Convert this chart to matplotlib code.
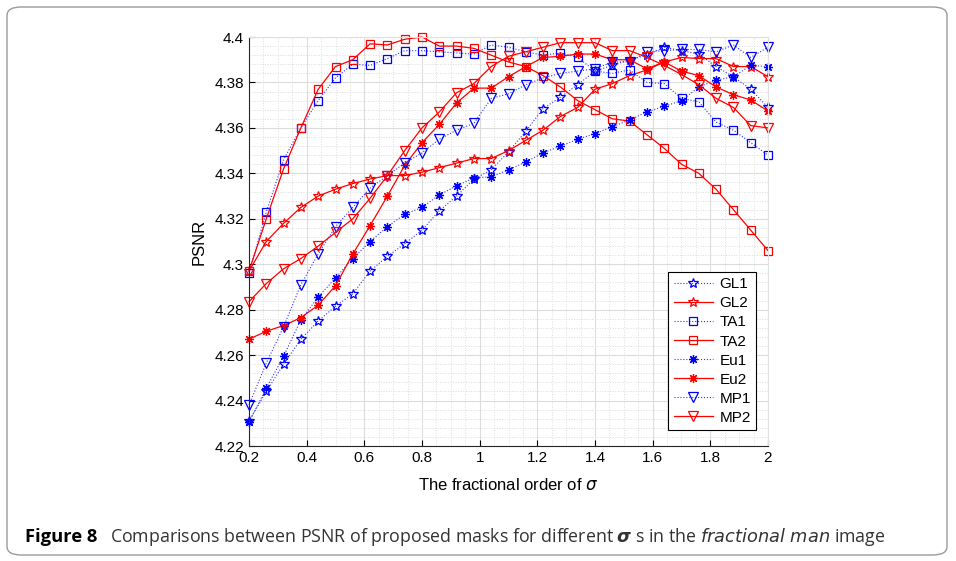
import numpy as np
import matplotlib.pyplot as plt
from matplotlib.patches import FancyBboxPatch

# ===== Veriler =====
sigma = np.round(np.arange(0.2, 2.0001, 0.06), 2)

gl1 = [4.231, 4.244, 4.256, 4.267, 4.275, 4.2815, 4.287, 4.297, 4.3035, 4.309, 4.315,
       4.3235, 4.330, 4.3375, 4.3415, 4.3495, 4.3585, 4.3685, 4.3735, 4.379, 4.385,
       4.3875, 4.390, 4.392, 4.3955, 4.394, 4.3925, 4.387, 4.3825, 4.377, 4.369]
gl2 = [4.297, 4.310, 4.318, 4.325, 4.330, 4.333, 4.3355, 4.3375, 4.339, 4.339, 4.3405,
       4.3425, 4.3445, 4.3465, 4.3465, 4.350, 4.3545, 4.359, 4.365, 4.369, 4.377,
       4.3795, 4.383, 4.3855, 4.389, 4.391, 4.3905, 4.3905, 4.387, 4.387, 4.3825]
ta1 = [4.296, 4.323, 4.346, 4.360, 4.372, 4.382, 4.388, 4.3875, 4.3905, 4.394, 4.394,
       4.3935, 4.393, 4.3925, 4.3965, 4.3955, 4.3935, 4.392, 4.393, 4.391, 4.385,
       4.384, 4.3855, 4.380, 4.3795, 4.373, 4.3715, 4.3625, 4.359, 4.3535, 4.348]
ta2 = [4.297, 4.320, 4.342, 4.360, 4.377, 4.387, 4.390, 4.397, 4.3965, 4.399, 4.400,
       4.396, 4.396, 4.395, 4.392, 4.389, 4.387, 4.383, 4.378, 4.372, 4.368,
       4.364, 4.363, 4.357, 4.351, 4.344, 4.340, 4.333, 4.324, 4.315, 4.306]
eu1 = [4.2305, 4.2455, 4.2595, 4.2755, 4.2855, 4.294, 4.3025, 4.310, 4.3165, 4.322, 4.325,
       4.3305, 4.3345, 4.338, 4.3385, 4.3415, 4.345, 4.349, 4.352, 4.355, 4.3575,
       4.3605, 4.3635, 4.367, 4.3695, 4.372, 4.378, 4.381, 4.3825, 4.3875, 4.387]
eu2 = [4.267, 4.2705, 4.273, 4.2765, 4.282, 4.2905, 4.3045, 4.317, 4.330, 4.3435, 4.3535,
       4.3615, 4.371, 4.3775, 4.3775, 4.3825, 4.387, 4.391, 4.3915, 4.3925, 4.3925,
       4.390, 4.390, 4.386, 4.389, 4.385, 4.383, 4.378, 4.3746, 4.3723, 4.3674]
mp1 = [4.238, 4.2565, 4.2725, 4.291, 4.3045, 4.3165, 4.325, 4.3335, 4.339, 4.3445, 4.349,
       4.355, 4.359, 4.362, 4.373, 4.375, 4.379, 4.382, 4.384, 4.385, 4.386,
       4.389, 4.389, 4.3935, 4.394, 4.3945, 4.3945, 4.3935, 4.3965, 4.391, 4.3955]
mp2 = [4.2835, 4.2915, 4.298, 4.3025, 4.308, 4.314, 4.320, 4.329, 4.339, 4.350, 4.360,
       4.367, 4.3755, 4.3795, 4.387, 4.3915, 4.3935, 4.3955, 4.3975, 4.3975, 4.3975,
       4.394, 4.394, 4.391, 4.3875, 4.3835, 4.379, 4.373, 4.369, 4.361, 4.360]

series = [("GL1", gl1), ("GL2", gl2), ("TA1", ta1), ("TA2", ta2),
          ("Eu1", eu1), ("Eu2", eu2), ("MP1", mp1), ("MP2", mp2)]
markers = {"GL": "*", "TA": "s", "Eu": (8, 2, 0), "MP": "v"}
msizes = {"GL": 7.5, "TA": 5.5, "Eu": 6.5, "MP": 7}

plt.rcParams['font.family'] = ['Liberation Sans', 'DejaVu Sans']

fig = plt.figure(figsize=(9.56, 5.61), dpi=100)

# ===== Çerçeve =====
frame = FancyBboxPatch((7 / 956, 6 / 561), 940 / 956, 548 / 561,
                       boxstyle="round,pad=0,rounding_size=0.015",
                       transform=fig.transFigure, facecolor='none',
                       edgecolor='#9a9a9a', linewidth=1.0)
fig.patches.append(frame)

ax = fig.add_axes([249 / 956, 115 / 561, 519 / 956, 409 / 561])

for name, vals in series:
    key = name[:2]
    if name.endswith("1"):
        ax.plot(sigma, vals, linestyle=':', color='#3333ff', linewidth=0.8,
                marker=markers[key], markersize=msizes[key], markerfacecolor='none',
                markeredgecolor='blue', markeredgewidth=0.9, label=name, clip_on=False)
    else:
        ax.plot(sigma, vals, linestyle='-', color='red', linewidth=0.9,
                marker=markers[key], markersize=msizes[key], markerfacecolor='none',
                markeredgecolor='red', markeredgewidth=0.9, label=name, clip_on=False)

ax.set_xlim(0.2, 2)
ax.set_ylim(4.22, 4.4)
ax.set_xticks(np.arange(0.2, 2.01, 0.2))
ax.set_xticklabels(["0.2", "0.4", "0.6", "0.8", "1", "1.2", "1.4", "1.6", "1.8", "2"])
ax.set_yticks(np.arange(4.22, 4.401, 0.02))
ax.set_yticklabels(["4.22", "4.24", "4.26", "4.28", "4.3", "4.32", "4.34", "4.36", "4.38", "4.4"])
ax.set_xticks(np.arange(0.2, 2.001, 0.05), minor=True)
ax.set_yticks(np.arange(4.22, 4.4001, 0.004), minor=True)
ax.tick_params(which='both', direction='in', labelsize=11, top=False, right=False)
ax.tick_params(which='major', length=4, width=0.8)
ax.tick_params(which='minor', length=0)
ax.grid(True, which='major', color='#dcdcdc', linewidth=0.8)
ax.grid(True, which='minor', color='#dcdcdc', linestyle=':', linewidth=0.7)
ax.set_axisbelow(True)
for side in ['top', 'right']:
    ax.spines[side].set_color('#e0e0e0')
for side in ['left', 'bottom']:
    ax.spines[side].set_color('#262626')

ax.set_xlabel(r"The fractional order of $\sigma$", fontsize=12, labelpad=9)
ax.set_ylabel("PSNR", fontsize=12, labelpad=6)

leg = ax.legend(loc='lower right', fontsize=11, frameon=True, fancybox=False,
                edgecolor='black', framealpha=1, handlelength=2.6, borderpad=0.35,
                labelspacing=0.33, handletextpad=0.4, borderaxespad=0,
                bbox_to_anchor=(0.977, 0.039))
leg.get_frame().set_linewidth(0.8)

# ===== Alt yazı =====
fig.text(25 / 956, 1 - 537 / 561, "Figure 8", fontsize=13.2, fontweight='bold',
         family='Open Sans', va='center', color='black')
fig.text(110 / 956, 1 - 537 / 561,
         r"Comparisons between PSNR of proposed masks for different $\boldsymbol{\sigma}$ s in the "
         r"$\it{fractional\ man}$ image",
         fontsize=12.8, family='Open Sans', va='center', color='#333333')

fig.savefig("out.png", dpi=100)
